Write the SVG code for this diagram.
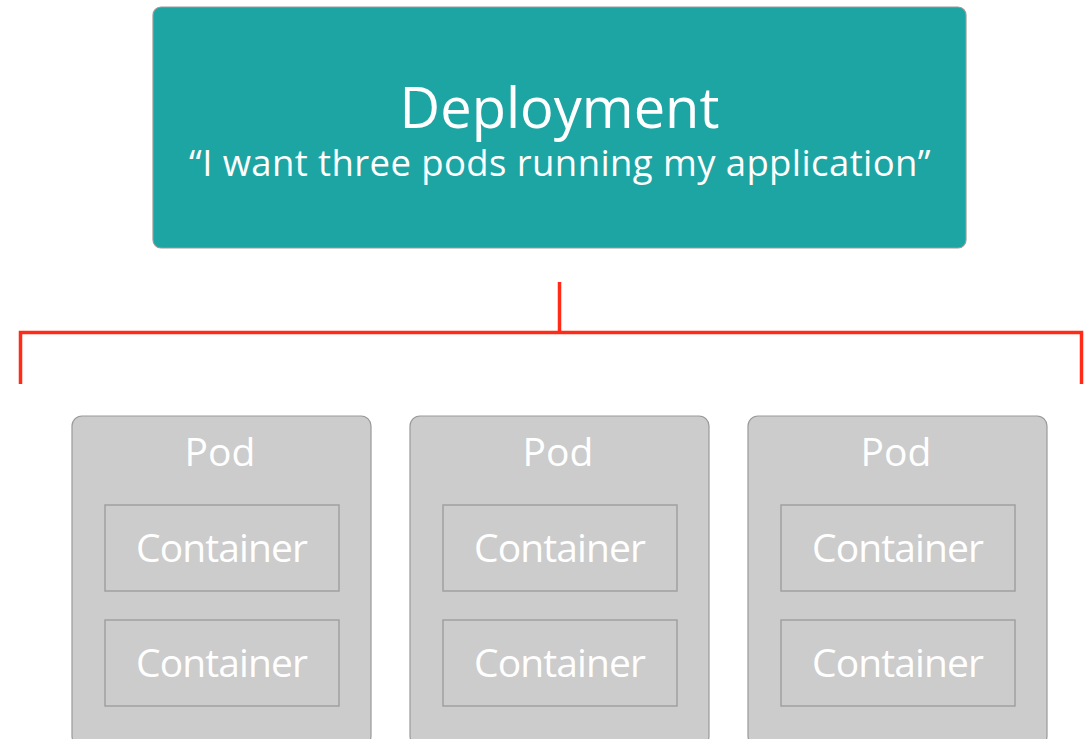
<svg xmlns="http://www.w3.org/2000/svg" width="1088" height="739" viewBox="0 0 1088 739">
<style>
.dep{fill:#1DA5A3;stroke:#9a9a9a;stroke-width:1.2}
.pod{fill:#CCCCCC;stroke:#999999;stroke-width:1.2}
.ctr{fill:#CCCCCC;stroke:#A0A0A0;stroke-width:1.5}
.t{font-family:"Open Sans","Noto Sans","Liberation Sans",sans-serif;fill:#FFFFFF;text-anchor:middle}
.c{font-size:39px;letter-spacing:-0.9px}
.conn{fill:none;stroke:#FF2A17;stroke-width:3.5;stroke-linecap:butt}
</style>
<rect width="1088" height="739" fill="#FFFFFF"/>
<g id="deployment">
<rect class="dep" x="153" y="7" width="813" height="241" rx="8"/>
<text class="t" x="559.5" y="128" font-size="56">Deployment</text>
<text class="t" x="560" y="176" font-size="36.5" letter-spacing="0.4">“I want three pods running my application”</text>
</g>
<g id="connectors">
<path class="conn" d="M559.5 282 V332.5 M20.5 384 V332.5 H1081.5 V384"/>
</g>
<g id="pod1">
<rect class="pod" x="72" y="416" width="299" height="330" rx="10"/>
<text class="t" x="220" y="466" font-size="39">Pod</text>
<g id="pod1-c1"><rect class="ctr" x="105" y="505" width="234" height="86"/><text class="t c" x="221.5" y="561.5">Container</text></g>
<g id="pod1-c2"><rect class="ctr" x="105" y="620" width="234" height="86"/><text class="t c" x="221.5" y="676.5">Container</text></g>
</g>
<g id="pod2">
<rect class="pod" x="410" y="416" width="299" height="330" rx="10"/>
<text class="t" x="558" y="466" font-size="39">Pod</text>
<g id="pod2-c1"><rect class="ctr" x="443" y="505" width="234" height="86"/><text class="t c" x="559.5" y="561.5">Container</text></g>
<g id="pod2-c2"><rect class="ctr" x="443" y="620" width="234" height="86"/><text class="t c" x="559.5" y="676.5">Container</text></g>
</g>
<g id="pod3">
<rect class="pod" x="748" y="416" width="299" height="330" rx="10"/>
<text class="t" x="896" y="466" font-size="39">Pod</text>
<g id="pod3-c1"><rect class="ctr" x="781" y="505" width="234" height="86"/><text class="t c" x="897.5" y="561.5">Container</text></g>
<g id="pod3-c2"><rect class="ctr" x="781" y="620" width="234" height="86"/><text class="t c" x="897.5" y="676.5">Container</text></g>
</g>
</svg>
